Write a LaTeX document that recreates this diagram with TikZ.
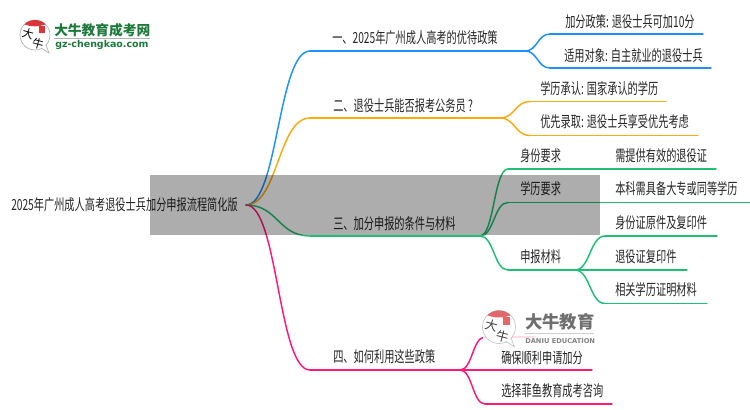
\documentclass[tikz,border=0pt]{standalone}
\usepackage{fontspec}
\usepackage{tikz}
\usetikzlibrary{calc}
\setmainfont[FakeStretch=0.665]{Noto Sans CJK SC}
\newfontfamily\logofont{Noto Sans CJK SC}
\newfontfamily\latinfont{DejaVu Sans}
\definecolor{bluebr}{HTML}{1E90FF}
\definecolor{orangebr}{HTML}{FFAA11}
\definecolor{greenbr}{HTML}{1FBF75}
\definecolor{pinkbr}{HTML}{FF1A75}
\definecolor{logogreen}{HTML}{1E7A3C}
\definecolor{logored}{HTML}{D8363A}
\tikzset{
  lbl/.style={inner sep=0pt,anchor=west,text=black!85,font=\fontsize{11.5pt}{12pt}\selectfont},
  br/.style={line width=1.1pt,line cap=round}
}
% #1 name, #2 text x, #3 text y, #4 text
\newcommand{\lablnode}[4]{\node[lbl] (#1) at (#2,#3) {#4};}
% #1 colour, #2 from, #3 to
\newcommand{\curve}[3]{\draw[br,#1] (#2) .. controls ($(#2)!.5!(#2 -| #3)$) and ($(#3)!.5!(#2 |- #3)$) .. (#3);}
% #1 colour, #2 name, #3 from, #4 x left, #5 x right, #6 y : curve from #3, then the underline
\newcommand{\under}[6]{\coordinate (#2a) at (#4,#6); \coordinate (#2b) at (#5,#6); \curve{#1}{#3}{#2a} \draw[br,#1] (#2a) -- (#2b);}
% #1 prefix, #2 x, #3 y, #4 scale
\newcommand{\logomark}[4]{
  \begin{scope}[shift={(#2,#3)},scale=#4,transform shape]
    \draw[gray!60,fill=white,line width=.5pt] (0,0) circle (15);
    \draw[gray!60,fill=white,line width=.5pt] (6,13) -- (14,18) -- (11,10);
    \fill[logored] (-10.6,-10.6) arc (225:315:15) .. controls (4,-8) and (-4,-8) .. (-10.6,-10.6);
    \fill[logored] (4,-9) rectangle (10,-2);
    \node[inner sep=0pt,rotate=-15,font=\logofont\fontsize{8.5pt}{9pt}\selectfont] (#1da) at (-7,-1) {大};
    \node[inner sep=0pt,rotate=-15,font=\logofont\fontsize{8.5pt}{9pt}\selectfont] (#1niu) at (3,8.5) {牛};
  \end{scope}
}
\begin{document}
\begin{tikzpicture}[x=0.75pt,y=-0.75pt]
  \useasboundingbox (0,0) rectangle (750,410);
  \fill[white] (0,0) rectangle (750,410);
  % root
  \lablnode{root}{11}{205}{2025年广州成人高考退役士兵加分申报流程简化版}
  \coordinate (rootend) at (246,205);
  % branch1
  \under{bluebr}{bone}{rootend}{310}{525}{51}
  \under{bluebr}{bonex}{boneb}{550}{703}{34}
  \under{bluebr}{boney}{boneb}{550}{711}{68}
  \lablnode{tone}{332}{38}{一、2025年广州成人高考的优待政策}
  \lablnode{tonex}{565}{22}{加分政策: 退役士兵可加10分}
  \lablnode{toney}{564}{56}{适用对象: 自主就业的退役士兵}
  % branch2
  \under{orangebr}{btwo}{rootend}{310}{500}{118}
  \under{orangebr}{btwox}{btwob}{530}{666}{101.5}
  \under{orangebr}{btwoy}{btwob}{530}{698}{135.5}
  \lablnode{ttwo}{333}{106}{二、退役士兵能否报考公务员 ?}
  \lablnode{ttwox}{540}{89}{学历承认: 国家承认的学历}
  \lablnode{ttwoy}{540}{122}{优先录取: 退役士兵享受优先考虑}
  % branch3
  \under{greenbr}{bthree}{rootend}{310}{480}{236}
  \under{greenbr}{bthreex}{bthreeb}{508}{716}{169}
  \under{greenbr}{bthreey}{bthreeb}{508}{750}{202.5}
  \under{greenbr}{bthreez}{bthreeb}{508}{575}{270}
  \under{greenbr}{bmatx}{bthreezb}{605}{717}{236}
  \under{greenbr}{bmaty}{bthreezb}{605}{687}{270}
  \under{greenbr}{bmatz}{bthreezb}{605}{707}{303.5}
  \lablnode{tthree}{333}{224}{三、加分申报的条件与材料}
  \lablnode{tid}{520}{156}{身份要求}
  \lablnode{tidx}{615}{156}{需提供有效的退役证}
  \lablnode{tedu}{520}{189}{学历要求}
  \lablnode{tedux}{615}{189}{本科需具备大专或同等学历}
  \lablnode{tmat}{520}{257}{申报材料}
  \lablnode{tmatx}{615}{223}{身份证原件及复印件}
  \lablnode{tmaty}{615}{257}{退役证复印件}
  \lablnode{tmatz}{615}{290}{相关学历证明材料}
  % branch4
  \under{pinkbr}{bfour}{rootend}{310}{460}{370}
  \under{pinkbr}{bfourx}{bfourb}{485}{535}{337}
  \under{pinkbr}{bfoury}{bfourb}{485}{592}{370}
  \under{pinkbr}{bfourz}{bfourb}{485}{612}{404}
  \lablnode{tfour}{333}{357}{四、如何利用这些政策}
  \lablnode{tfoury}{501}{358}{确保顺利申请加分}
  \lablnode{tfourz}{501}{391}{选择菲鱼教育成考咨询}
  % top logo
  \logomark{a}{35}{35}{1}
  \node[inner sep=0pt,anchor=west,text=logogreen,font=\logofont\bfseries\fontsize{10.3pt}{10pt}\selectfont] (logoa) at (54,30) {大牛教育成考网};
  \draw[gray!60,line width=.8pt] (54,38.5) -- (150,38.5);
  \node[inner sep=0pt,anchor=west,text=logogreen,font=\latinfont\bfseries\fontsize{7.1pt}{7pt}\selectfont] (logob) at (55,45) {gz-chengkao.com};
  % watermark
  \fill[white,opacity=.85] (483,309) rectangle (597,351);
  \begin{scope}[opacity=.75]
    \logomark{b}{499}{327}{1.1}
    \node[inner sep=0pt,anchor=west,text=black!75,font=\logofont\bfseries\fontsize{13pt}{13pt}\selectfont] (logoc) at (525,322) {大牛教育};
    \draw[gray!50,line width=.6pt] (525,333) -- (594,333);
    \node[inner sep=0pt,anchor=west,text=black!65,font=\latinfont\bfseries\fontsize{5pt}{5pt}\selectfont] (logod) at (525,341) {DANIU EDUCATION};
  \end{scope}
  % grey band
  \fill[black,opacity=.32] (150,175) rectangle (600,235);
\end{tikzpicture}
\end{document}
